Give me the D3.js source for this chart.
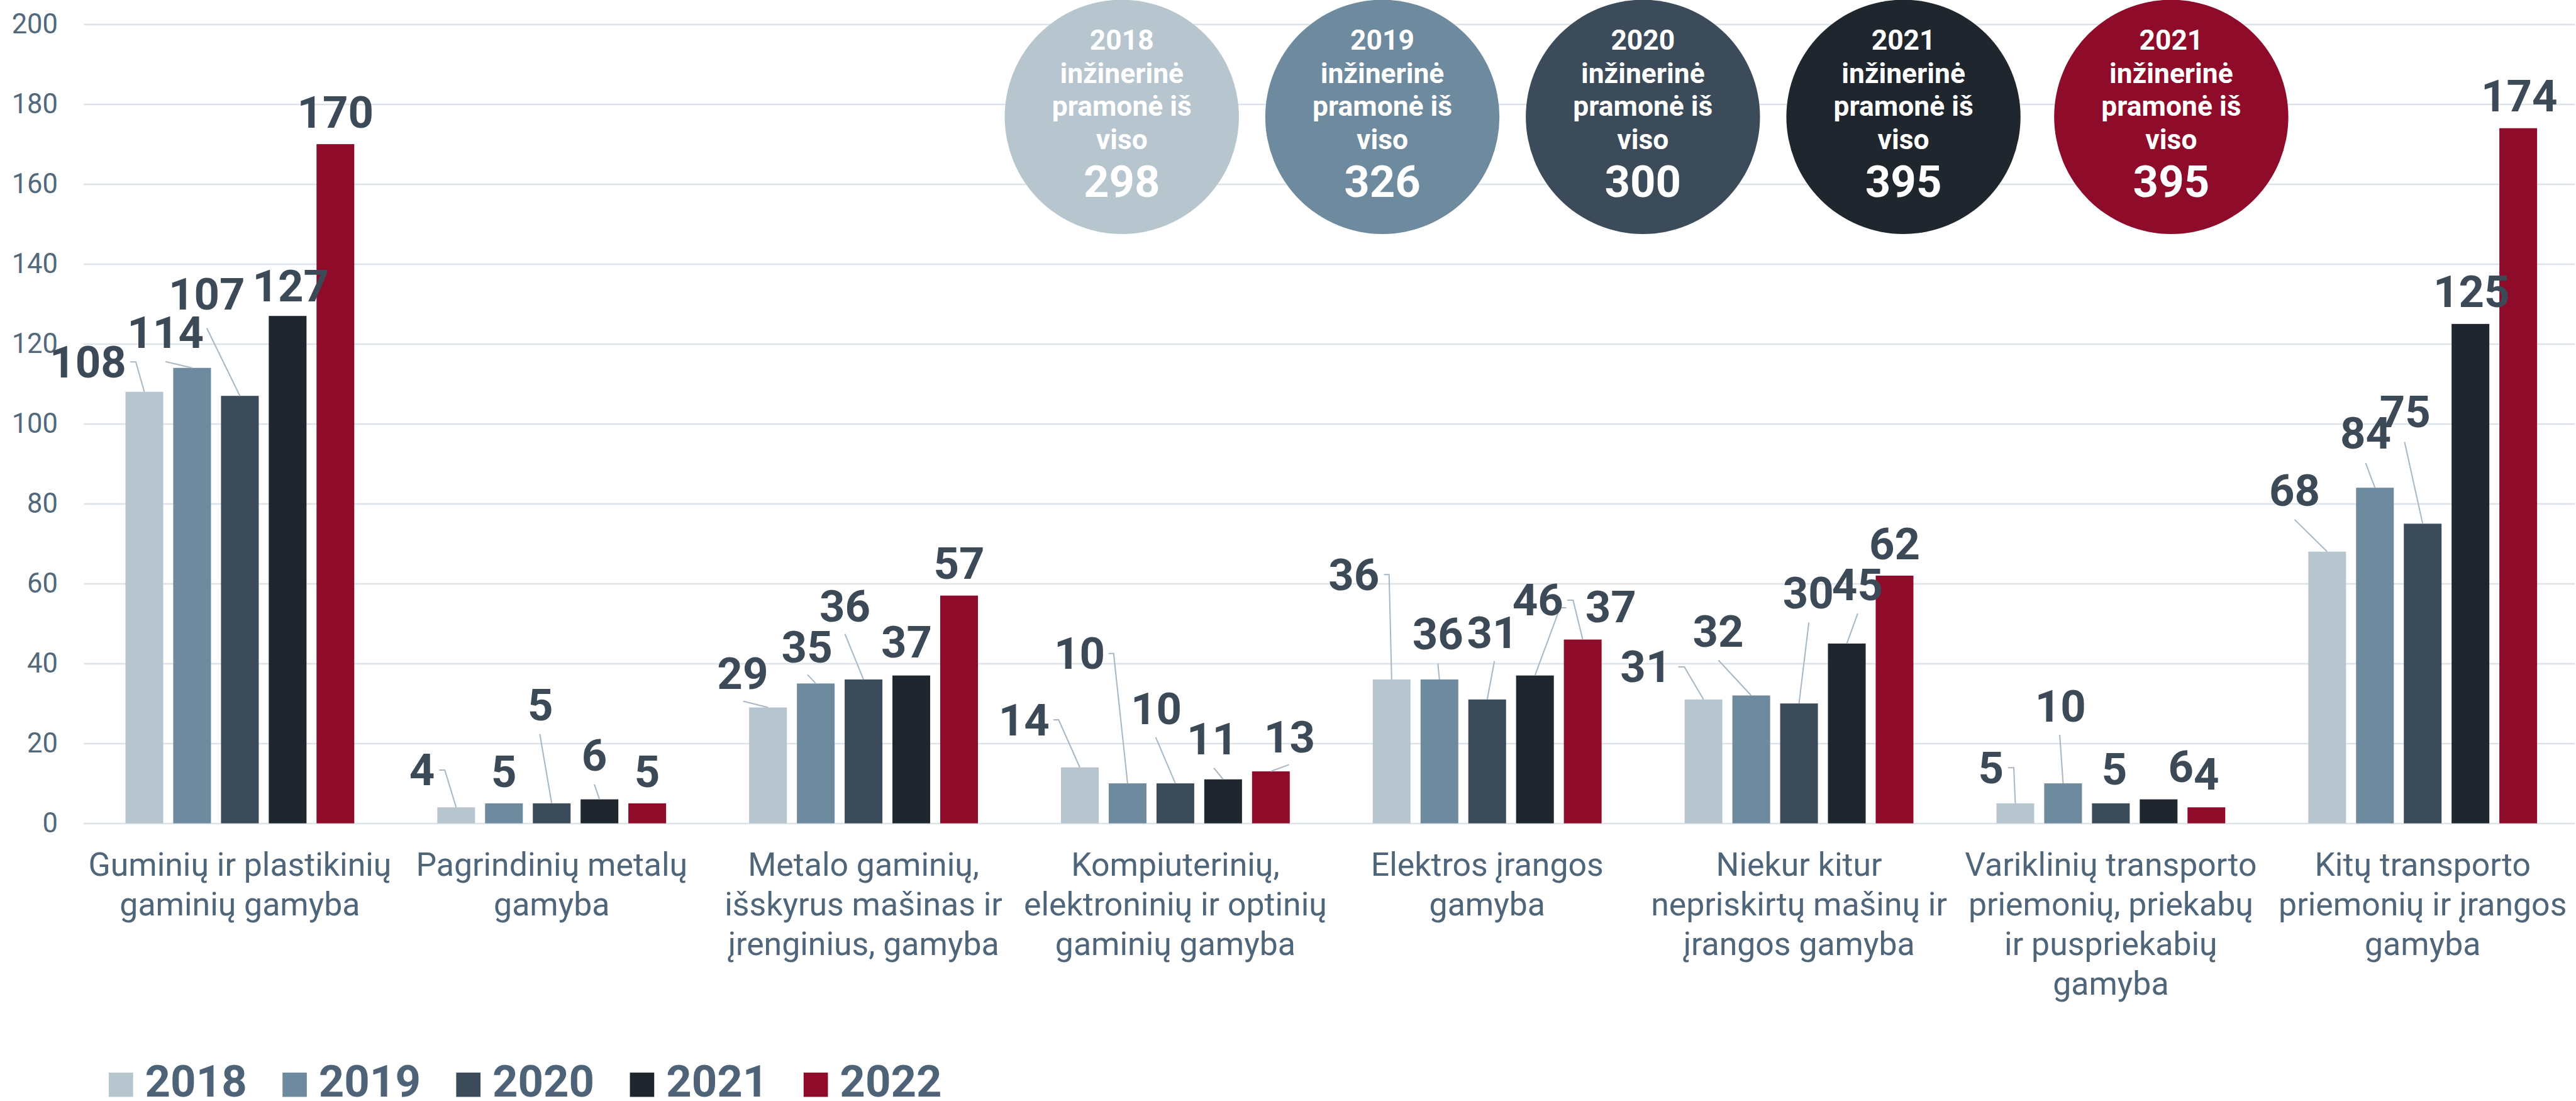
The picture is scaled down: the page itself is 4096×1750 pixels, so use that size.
<!DOCTYPE html>
<html lang="lt">
<head>
<meta charset="utf-8">
<title>Inžinerinė pramonė</title>
<script src="https://cdn.jsdelivr.net/npm/d3@7"></script>
<style>
  html, body { margin: 0; padding: 0; background: #fff; }
  svg { display: block; }
  text { font-family: Roboto, "Noto Sans", sans-serif; }
</style>
</head>
<body>
<script>
// ---- data ----
var categoryLines = [
  ["Guminių ir plastikinių", "gaminių gamyba"],
  ["Pagrindinių metalų", "gamyba"],
  ["Metalo gaminių,", "išskyrus mašinas ir", "įrenginius, gamyba"],
  ["Kompiuterinių,", "elektroninių ir optinių", "gaminių gamyba"],
  ["Elektros įrangos", "gamyba"],
  ["Niekur kitur", "nepriskirtų mašinų ir", "įrangos gamyba"],
  ["Variklinių transporto", "priemonių, priekabų", "ir puspriekabių", "gamyba"],
  ["Kitų transporto", "priemonių ir įrangos", "gamyba"]
];
var categories = categoryLines.map(function(l){ return l.join(" "); });
var years = ["2018", "2019", "2020", "2021", "2022"];

var v2018 = [108, 4, 29, 14, 36, 31, 5, 68];
var v2019 = [114, 5, 35, 10, 36, 32, 10, 84];
var v2020 = [107, 5, 36, 10, 31, 30, 5, 75];
var v2021 = [127, 6, 37, 11, 37, 45, 6, 125];
var v2022 = [170, 5, 57, 13, 46, 62, 4, 174];
var series = [v2018, v2019, v2020, v2021, v2022];

// the Elektros group prints its last two labels the other way round
var elektrosLabels = [36, 36, 31, 46, 37];

var yTicks = [0, 20, 40, 60, 80, 100, 120, 140, 160, 180, 200];

var circleYears = ["2018", "2019", "2020", "2021", "2021"];
var circleTotals = [298, 326, 300, 395, 395];

// ---- styling / layout (reference pixels, scaled at the end) ----
var colors = ["#b7c5cf", "#6e8a9e", "#3c4b59", "#20262d", "#8e0b2a"];
var circleX = [2170, 2674, 3178, 3682, 4200];

// label offsets from the default spot [dx, dy, leader [sx, sy, tick] or null]
var labelPos = [
  [[-109, 4, [81.5, -30, 11]], [-51.5, -6, [0, 26, 0]], [-64, -135, [0, 36, 0]], [6, 4, null], [0, 0, null]],
  [[-66, -11, [33, -29, 11]], [0, 0, null], [-22, -129, [-1, 27, 0]], [-10, -23, [0, 26, 0]], [0, 0, null]],
  [[-49, -4, [1, 24, 0]], [-17, -9, [1, 24, 0]], [-36, -80, [0, 24, 0]], [-9, -3, null], [0, 0, null]],
  [[-108, -30, [57, -30, 10]], [-93, -189, [56, -30, 10]], [-37, -83, [-1, 26, 0]], [-21, -16, [3, 26, 0]], [36, -5, [-1, 24, 0]]],
  [[-73, -141, [58, -30, 10]], [-3, -26, [0, 27, 0]], [10, -68, [4, 26, 0]], [5.5, -85, [55, -14, -12]], [54.4, -1, [-84.5, -43, 11.5]]],
  [[-111.6, -2, [63, -29, 11.5]], [-64, -62, [0.6, 26, 0]], [18, -151.5, [1, 27, 0]], [20.6, -52, [0.6, 26, 0]], [0, 0, null]],
  [[-47, -7, [33, -30, 11]], [-5, -87, [-1.5, 25, 0]], [7, -4, null], [43, -1, null], [0, -2, null]],
  [[-63, -56, [0, 26, 0]], [-18, -44, [0, 28, 0]], [-34, -154, [-1, 28, 0]], [2, -1, null], [2, -1, null]]
];

var W = 4096, H = 1750, k = 0.822;
var svg = d3.select("body").append("svg").attr("width", W).attr("height", H);
var g = svg.append("g").attr("transform", "scale(" + k + ")");

var y = d3.scaleLinear().domain([0, 200]).range([1592, 47]);
var x0 = d3.scaleBand().domain(categories).range([162.4, 4988]);
var x1 = d3.scaleBand().domain(years).range([-221.3, 221.3]).paddingInner(0.21);
var half = x0.bandwidth() / 2;

// gridlines + y labels
var yAxis = g.append("g")
  .attr("transform", "translate(162,0)")
  .call(d3.axisLeft(y).tickValues(yTicks).tickSize(-(4981 - 162)).tickPadding(50));
yAxis.select(".domain").remove();
yAxis.selectAll(".tick line").attr("stroke", "#dde3e9").attr("stroke-width", 3);
yAxis.selectAll(".tick text")
  .attr("fill", "#52687b")
  .style("font-size", "53px")
  .style("font-family", "Roboto, sans-serif");

// category labels
var xAxis = g.append("g")
  .attr("transform", "translate(0,1592)")
  .call(d3.axisBottom(x0).tickSize(0));
xAxis.select(".domain").remove();
xAxis.selectAll(".tick text").each(function(d, i) {
  var t = d3.select(this).text(null).attr("y", 0).attr("dy", null)
    .attr("fill", "#4f6579")
    .style("font-size", "63px")
    .style("font-family", "Roboto, sans-serif");
  categoryLines[i].forEach(function(line, j) {
    t.append("tspan").attr("x", 0).attr("y", 102 + j * 76.5).text(line);
  });
});

// total bubbles
var bubbles = g.selectAll("g.bubble").data(circleTotals).enter().append("g")
  .attr("class", "bubble")
  .attr("transform", function(d, i) { return "translate(" + circleX[i] + ",226)"; });
bubbles.append("circle").attr("r", 226.5).attr("fill", function(d, i) { return colors[i]; });
bubbles.each(function(d, i) {
  var b = d3.select(this);
  [circleYears[i], "inžinerinė", "pramonė iš", "viso"].forEach(function(line, j) {
    b.append("text").attr("x", 0).attr("y", -130 + j * 64)
      .attr("text-anchor", "middle").attr("fill", "#fff")
      .style("font-size", "54px").style("font-weight", 700).text(line);
  });
  b.append("text").attr("x", 0).attr("y", 155)
    .attr("text-anchor", "middle").attr("fill", "#fff")
    .style("font-size", "86px").style("font-weight", 700).text(d);
});

// bars
var groups = g.selectAll("g.cat").data(categories).enter().append("g")
  .attr("class", "cat")
  .attr("transform", function(d) { return "translate(" + (x0(d) + half) + ",0)"; });

groups.selectAll("rect")
  .data(function(d, i) { return years.map(function(yr, j) { return { year: yr, v: series[j][i] }; }); })
  .enter().append("rect")
  .attr("x", function(d) { return x1(d.year); })
  .attr("width", x1.bandwidth())
  .attr("y", function(d) { return y(d.v); })
  .attr("height", function(d) { return y(0) - y(d.v); })
  .attr("fill", function(d, j) { return colors[j]; });

// data labels with leader lines
groups.each(function(cat, i) {
  var grp = d3.select(this);
  years.forEach(function(yr, j) {
    var v = series[j][i];
    var cx = x1(yr) + x1.bandwidth() / 2;
    var p = labelPos[i][j];
    var lx = cx + p[0], ly = y(v) - 32 + p[1];
    if (p[2]) {
      var sx = lx + p[2][0], sy = ly + p[2][1];
      grp.append("path")
        .attr("d", "M" + sx + "," + sy + "L" + (sx + p[2][2]) + "," + sy + "L" + cx + "," + y(v))
        .attr("fill", "none").attr("stroke", "#a9b8c5").attr("stroke-width", 2.5);
    }
    var txt = i === 4 ? elektrosLabels[j] : v;
    grp.append("text").attr("x", lx).attr("y", ly)
      .attr("text-anchor", "middle").attr("fill", "#3c4a57")
      .style("font-size", "86px").style("font-weight", 700).text(txt);
  });
});

// legend
var legend = g.selectAll("g.leg").data(years).enter().append("g")
  .attr("class", "leg")
  .attr("transform", function(d, i) { return "translate(" + (210.5 + i * 336) + ",2121)"; });
legend.append("rect").attr("x", 0).attr("y", -47).attr("width", 47).attr("height", 47)
  .attr("fill", function(d, i) { return colors[i]; });
legend.append("text").attr("x", 70).attr("y", 0)
  .attr("fill", "#4e6377").style("font-size", "86px").style("font-weight", 700)
  .text(function(d) { return d; });
</script>
</body>
</html>
